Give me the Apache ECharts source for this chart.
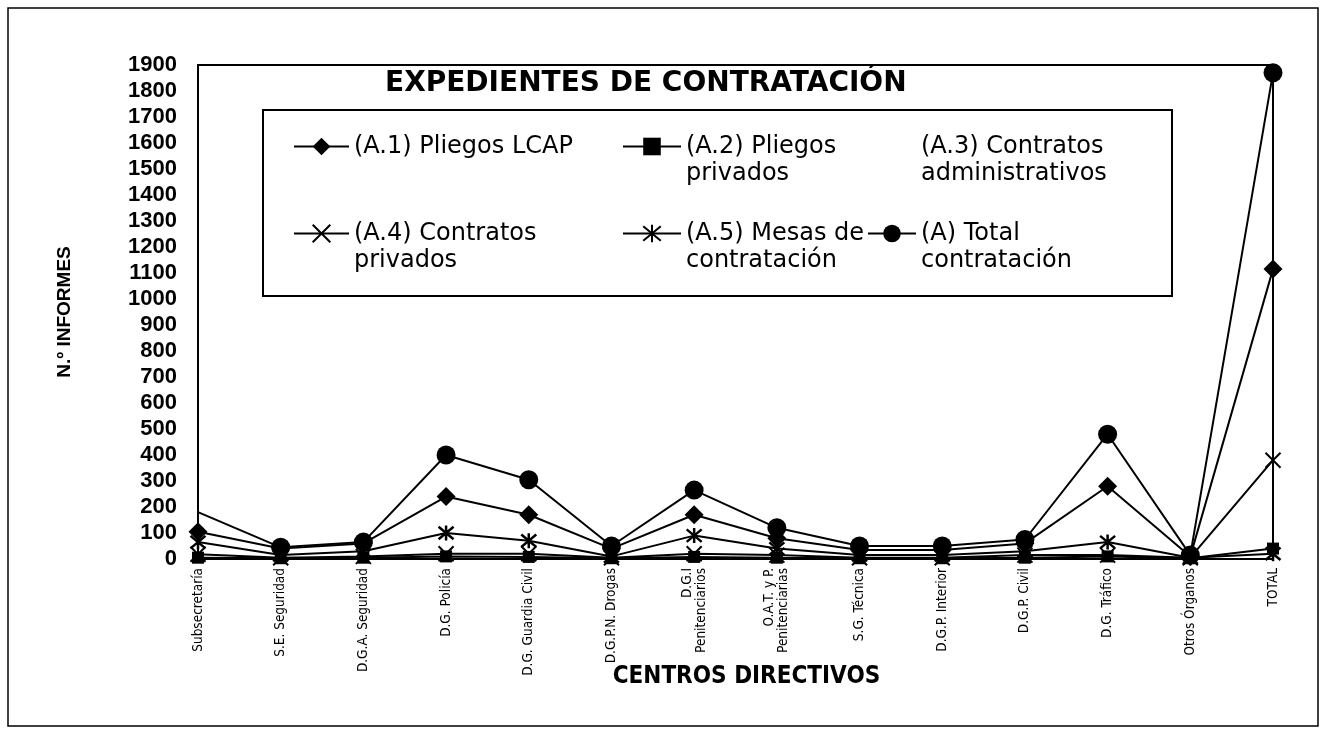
<!DOCTYPE html>
<html><head><meta charset="utf-8">
<script src="https://cdn.jsdelivr.net/npm/echarts@6/dist/echarts.min.js"></script>
<style>html,body{margin:0;padding:0;background:#fff}#c{width:1325px;height:734px}</style>
</head><body><div id="c"></div>
<script>
var categories = ['Subsecretaría','S.E. Seguridad','D.G.A. Seguridad','D.G. Policía','D.G. Guardia Civil','D.G.P.N. Drogas','D.G.I\nPenitenciarios','O.A.T. y P.\nPenitenciarias','S.G. Técnica','D.G.P. Interior','D.G.P. Civil','D.G. Tráfico','Otros Órganos','TOTAL'];
var yTicks = [0,100,200,300,400,500,600,700,800,900,1000,1100,1200,1300,1400,1500,1600,1700,1800,1900];
var a1PliegosLCAP      = [105, 40, 60, 240, 170, 40, 170, 80, 35, 35, 60, 280, 10, 1115];
var a2PliegosPrivados  = [5, 3, 5, 10, 8, 3, 8, 5, 3, 3, 5, 10, 3, 40];
var a3ContratosAdmin   = [5, 3, 5, 8, 6, 3, 6, 5, 3, 3, 5, 8, 3, 30];
var a4ContratosPriv    = [18, 5, 10, 20, 20, 5, 20, 15, 5, 5, 15, 15, 5, 380];
var a5Mesas            = [65, 15, 30, 100, 70, 10, 90, 40, 15, 15, 30, 65, 5, 20];
var aTotal             = [180, 45, 65, 400, 305, 50, 265, 120, 50, 50, 75, 480, 15, 1870];
var seriesNames = ['(A.1) Pliegos LCAP','(A.2) Pliegos privados','(A.3) Contratos administrativos','(A.4) Contratos privados','(A.5) Mesas de contratación','(A) Total contratación'];
var legendLabels = {
  '(A.1) Pliegos LCAP': '\n(A.1) Pliegos LCAP\n',
  '(A.2) Pliegos privados': '\n(A.2) Pliegos\nprivados',
  '(A.3) Contratos administrativos': '\n(A.3) Contratos\nadministrativos',
  '(A.4) Contratos privados': '\n(A.4) Contratos\nprivados',
  '(A.5) Mesas de contratación': '\n(A.5) Mesas de\ncontratación',
  '(A) Total contratación': '\n(A) Total\ncontratación'
};

var X_PATH = 'path://M0,0L10,10M10,0L0,10';
var AST_PATH = 'path://M5,-1L5,11M0,0L10,10M10,0L0,10';

function mk(name, data, symbol, size, extra) {
  var s = {
    name: name, type: 'line', data: data, symbol: symbol, symbolSize: size,
    showAllSymbol: true, clip: false,
    lineStyle: {color: '#000', width: 2},
    itemStyle: {color: '#000', borderColor: '#000', borderWidth: 0},
    emphasis: {disabled: true}, animation: false
  };
  if (extra) { for (var k in extra) s[k] = extra[k]; }
  return s;
}

var totalData = aTotal.map(function (v, i) { return i === 0 ? {value: v, symbolSize: 0} : v; });

var series = [
  mk(seriesNames[0], a1PliegosLCAP, 'diamond', 19),
  mk(seriesNames[1], a2PliegosPrivados, 'rect', 12),
  mk(seriesNames[2], a3ContratosAdmin, 'none', 0, {lineStyle: {color: '#000', width: 0, opacity: 0}, itemStyle: {opacity: 0}}),
  mk(seriesNames[3], a4ContratosPriv, X_PATH, 15, {itemStyle: {color: '#000', borderColor: '#000', borderWidth: 2}}),
  mk(seriesNames[4], a5Mesas, AST_PATH, 15, {itemStyle: {color: '#000', borderColor: '#000', borderWidth: 2.5}}),
  mk(seriesNames[5], totalData, 'circle', 19)
];

function legend(names, left, w) {
  return {
    orient: 'vertical', left: left, top: 106, padding: 0, itemGap: 6,
    itemWidth: w, itemHeight: 22, selectedMode: false,
    data: names,
    formatter: function (n) { return legendLabels[n]; },
    textStyle: {fontFamily: 'DejaVu Sans', fontSize: 24, lineHeight: 27, color: '#000'}
  };
}

var chart = echarts.init(document.getElementById('c'), null, {renderer: 'canvas'});
chart.setOption({
  animation: false,
  backgroundColor: '#fff',
  title: {
    text: 'EXPEDIENTES DE CONTRATACIÓN', left: 380, top: 65,
    textStyle: {fontFamily: 'DejaVu Sans', fontWeight: 'bold', fontSize: 28, color: '#000'}
  },
  legend: [
    legend([seriesNames[0], seriesNames[3]], 293, 55),
    legend([seriesNames[1], seriesNames[4]], 622, 58),
    legend([seriesNames[2], seriesNames[5]], 867, 48)
  ],
  grid: {left: 198, right: 52, top: 65, bottom: 175, show: true, borderColor: '#000', borderWidth: 2, containLabel: false},
  xAxis: {
    type: 'category', data: categories, boundaryGap: false,
    axisLine: {lineStyle: {color: '#000', width: 2}},
    axisTick: {show: false},
    axisLabel: {rotate: 90, interval: 0, margin: 9, fontFamily: 'Liberation Sans Narrow, DejaVu Sans Condensed, sans-serif', fontSize: 13.5, color: '#000', lineHeight: 14},
    name: 'CENTROS DIRECTIVOS', nameLocation: 'middle', nameGap: 106, nameMoveOverlap: false,
    nameTextStyle: {fontFamily: 'Liberation Sans Narrow, DejaVu Sans Condensed, sans-serif', fontWeight: 'bold', fontSize: 24, color: '#000', padding: [0, 0, 0, 22]}
  },
  yAxis: {
    type: 'value', min: yTicks[0], max: yTicks[yTicks.length - 1], interval: yTicks[1] - yTicks[0],
    splitLine: {show: false},
    axisLine: {show: true, lineStyle: {color: '#000', width: 2}},
    axisTick: {show: false},
    axisLabel: {margin: 21, fontFamily: 'Liberation Sans', fontWeight: 'bold', fontSize: 22, color: '#000', formatter: function (v) { return String(v); }},
    name: 'N.º INFORMES', nameLocation: 'middle', nameGap: 124, nameRotate: 90, nameMoveOverlap: false,
    nameTextStyle: {fontFamily: 'Liberation Sans', fontWeight: 'bold', fontSize: 19, color: '#000'}
  },
  graphic: [
    {type: 'rect', shape: {x: 8, y: 8, width: 1310, height: 718}, style: {fill: 'none', stroke: '#000', lineWidth: 1.5}, silent: true, z: -1},
    {type: 'rect', shape: {x: 263, y: 110, width: 909, height: 186}, style: {fill: '#fff', stroke: '#000', lineWidth: 2}, silent: true, z: 0}
  ],
  series: series
});
</script></body></html>
